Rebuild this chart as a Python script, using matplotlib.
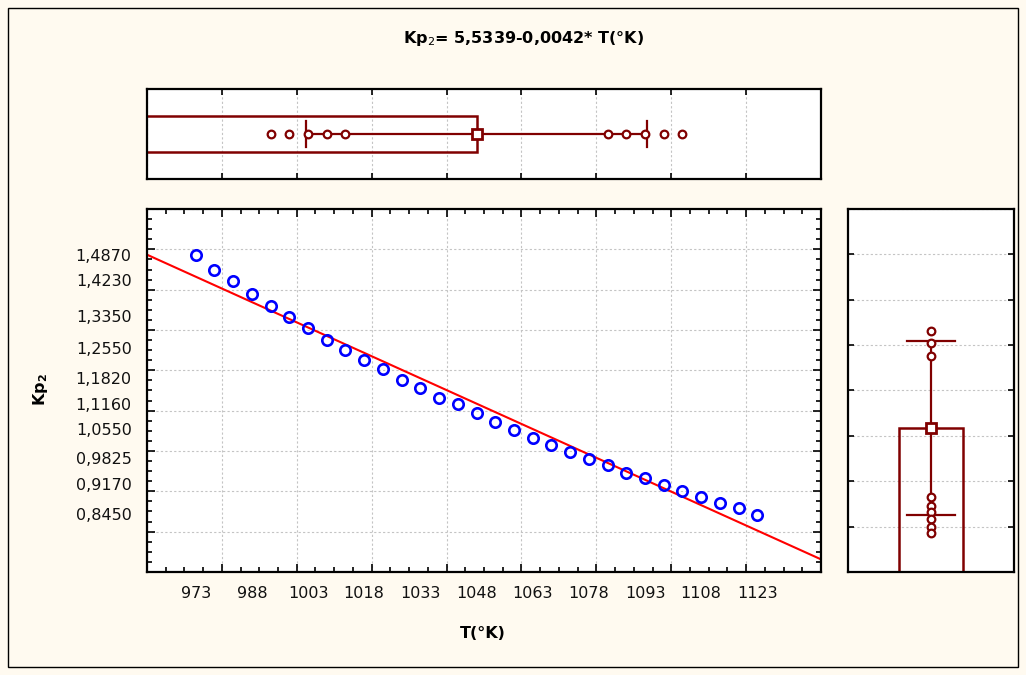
import numpy as np
import matplotlib
matplotlib.use("Agg")
import matplotlib.pyplot as plt
from matplotlib.patches import Rectangle
from matplotlib.ticker import MultipleLocator

plt.rcParams['font.family'] = ['DejaVu Sans']
plt.rcParams['mathtext.fontset'] = 'dejavusans'

# Дані
T = [973, 978, 983, 988, 993, 998, 1003, 1008, 1013, 1018, 1023, 1028, 1033, 1038,
     1043, 1048, 1053, 1058, 1063, 1068, 1073, 1078, 1083, 1088, 1093, 1098, 1103,
     1108, 1113, 1118, 1123]
kp2 = [1.485, 1.448, 1.421, 1.389, 1.360, 1.332, 1.305, 1.276, 1.251, 1.226, 1.204,
       1.177, 1.157, 1.132, 1.116, 1.095, 1.073, 1.053, 1.032, 1.014, 0.998, 0.980,
       0.966, 0.945, 0.933, 0.916, 0.900, 0.886, 0.871, 0.858, 0.842]

# підписи осей (як у Statistica)
xtick_vals = [973, 988, 1003, 1018, 1033, 1048, 1063, 1078, 1093, 1108, 1123]
xtick_text = ["973", "988", "1003", "1018", "1033", "1048", "1063", "1078", "1093", "1108", "1123"]
ytick_vals = [1.487, 1.423, 1.335, 1.255, 1.182, 1.116, 1.055, 0.9825, 0.917, 0.845]
ytick_text = ["1,4870", "1,4230", "1,3350", "1,2550", "1,1820", "1,1160", "1,0550",
              "0,9825", "0,9170", "0,8450"]

# точки біля кінців "вусів"
top_marks = [993, 998, 1003, 1008, 1013, 1083, 1088, 1093, 1098, 1103]
right_marks = [1.332, 1.305, 1.276, 0.966, 0.945, 0.933, 0.916, 0.900, 0.886]

bg = '#fffaf0'
dark = '#800000'
grid_kw = dict(color='#c4c4c4', ls=(0, (2, 2)), lw=0.8)

W, H = 1026, 675
fig = plt.figure(figsize=(W / 100, H / 100), dpi=100, facecolor=bg)
fig.add_artist(Rectangle((8 / W, 8 / H), 1010 / W, 659 / H, transform=fig.transFigure,
                         fill=False, ec='black', lw=1.0))

ax = fig.add_axes([147 / W, 1 - 572 / H, 674 / W, 363 / H])
ax_top = fig.add_axes([147 / W, 1 - 179 / H, 674 / W, 90 / H])
ax_r = fig.add_axes([848 / W, 1 - 572 / H, 166 / W, 363 / H])

for a in (ax, ax_top, ax_r):
    a.set_facecolor('white')
    for s in a.spines.values():
        s.set_linewidth(1.6)
    a.set_axisbelow(True)

# Головний графік
ax.set_xlim(960, 1140)
ax.set_ylim(0.7, 1.6)
ax.xaxis.set_major_locator(MultipleLocator(20))
ax.xaxis.set_minor_locator(MultipleLocator(5))
ax.yaxis.set_major_locator(MultipleLocator(0.1))
ax.yaxis.set_minor_locator(MultipleLocator(0.025))
ax.tick_params(which='both', direction='in', top=True, right=True,
               labelbottom=False, labelleft=False, width=1.2)
ax.tick_params(which='major', length=6)
ax.tick_params(which='minor', length=3.5)
ax.grid(which='major', **grid_kw)

coef = np.polyfit(T, kp2, 1)
xs = np.array([960, 1140])
ax.plot(xs, np.polyval(coef, xs), color='#ff0000', lw=1.5, zorder=2)
ax.plot(T, kp2, 'o', mfc='none', mec='#0000ff', ms=7.5, mew=1.9, zorder=3)

sx = ax.secondary_xaxis('bottom')
sx.set_xticks(xtick_vals, labels=xtick_text)
sx.tick_params(length=0, pad=10, labelsize=11.5, labelcolor='#111111')
sx.spines['bottom'].set_visible(False)

sy = ax.secondary_yaxis('left')
sy.set_yticks(ytick_vals, labels=ytick_text)
sy.tick_params(length=0, pad=11, labelsize=11.5, labelcolor='#111111')
sy.spines['left'].set_visible(False)

# Верхня панель (T)
mT, sT = np.mean(T), np.std(T, ddof=1)
ax_top.set_xlim(960, 1140)
ax_top.set_ylim(0, 1)
ax_top.xaxis.set_major_locator(MultipleLocator(20))
ax_top.set_yticks([])
ax_top.tick_params(direction='in', top=True, length=4, width=1.2,
                   labelbottom=False)
ax_top.grid(axis='x', **grid_kw)
ax_top.add_patch(Rectangle((0, 0.3), mT, 0.4, fill=False, ec=dark, lw=1.8))
ax_top.plot([mT - sT, mT + sT], [0.5, 0.5], color=dark, lw=1.6)
for c in (mT - sT, mT + sT):
    ax_top.plot([c, c], [0.355, 0.645], color=dark, lw=1.6)
ax_top.plot(top_marks, [0.5] * len(top_marks), 'o', mfc='white', mec=dark, ms=5.5, mew=1.6)
ax_top.plot([mT], [0.5], 's', mfc='white', mec=dark, ms=6.5, mew=2)

# Права панель (Kp2)
mK, sK = np.mean(kp2), np.std(kp2, ddof=1)
ax_r.set_xlim(0, 1)
ax_r.set_ylim(0.8, 1.6)
ax_r.yaxis.set_major_locator(MultipleLocator(0.1))
ax_r.set_xticks([])
ax_r.tick_params(direction='in', right=True, length=4, width=1.2, labelleft=False)
ax_r.grid(axis='y', **grid_kw)
ax_r.add_patch(Rectangle((0.305, 0), 0.39, mK, fill=False, ec=dark, lw=1.8))
ax_r.plot([0.5, 0.5], [mK - sK, mK + sK], color=dark, lw=1.6)
for c in (mK - sK, mK + sK):
    ax_r.plot([0.355, 0.645], [c, c], color=dark, lw=1.6)
ax_r.plot([0.5] * len(right_marks), right_marks, 'o', mfc='white', mec=dark, ms=5.5, mew=1.6)
ax_r.plot([0.5], [mK], 's', mfc='white', mec=dark, ms=6.5, mew=2)

# Підписи
fig.text(524 / W, 1 - 38 / H, r"Kp$_{\mathit{2}}$= 5,5339-0,0042* T(°K)",
         ha='center', va='center', fontsize=11.5, fontweight='bold')
fig.text(483 / W, 1 - 634 / H, "T(°K)", ha='center', va='center',
         fontsize=11.5, fontweight='bold')
fig.text(40 / W, 1 - 390 / H, r"Kp$_{\mathbf{2}}$", ha='center', va='center',
         rotation=90, fontsize=11.5, fontweight='bold')

fig.savefig("out.png", dpi=100, facecolor=bg)
